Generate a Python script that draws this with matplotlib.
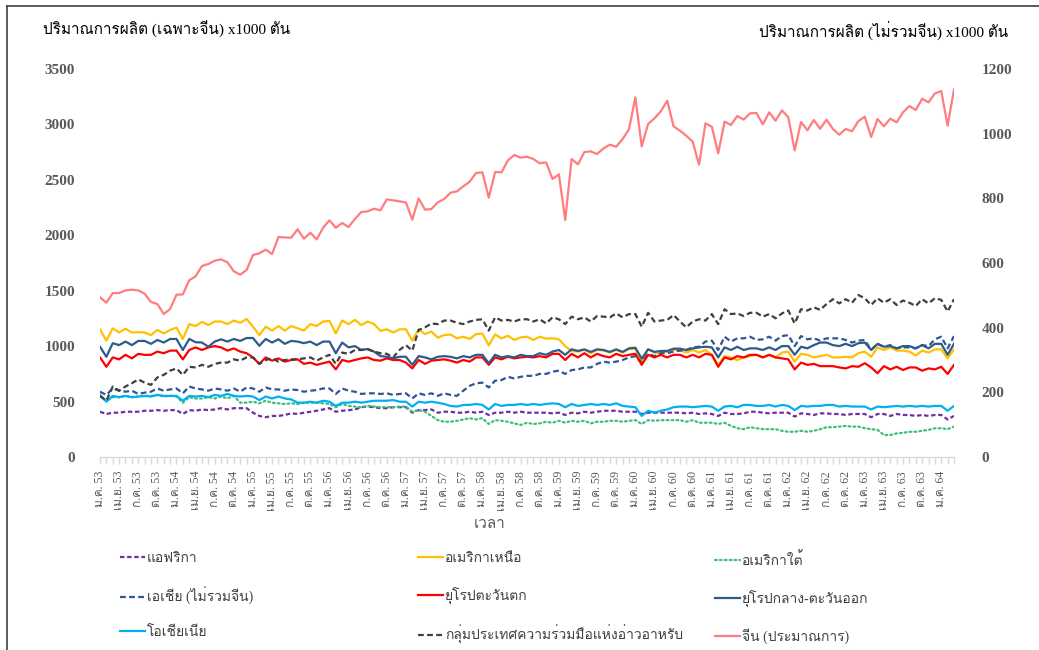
import matplotlib
matplotlib.use('Agg')
import matplotlib.pyplot as plt
from matplotlib import font_manager
from matplotlib.ft2font import FT2Font
from matplotlib.lines import Line2D


def thai_font():
    # first installed family that has Thai glyphs
    found = []
    for f in font_manager.fontManager.ttflist:
        try:
            if FT2Font(f.fname).get_char_index(0x0E01):
                found.append(f.name)
        except Exception:
            pass
    for name in ['Norasi', 'Kinnari', 'Sawasdee', 'Garuda', 'Loma',
                 'Noto Serif Thai', 'Noto Sans Thai', 'Noto Sans']:
        if name in found:
            return name
    return found[0] if found else 'DejaVu Sans'


TH = thai_font()
plt.rcParams['font.family'] = ['Liberation Serif', TH, 'DejaVu Sans']

# monthly production, ม.ค. 53 - มี.ค. 64
months = ['ม.ค.', 'เม.ย.', 'ก.ค.', 'ต.ค.']
first_year = 53

china = [1440, 1392, 1479, 1479, 1503, 1509, 1503, 1473, 1398, 1380,
         1290, 1335, 1464, 1467, 1594, 1630, 1723, 1741, 1771, 1783,
         1756, 1675, 1645, 1687, 1822, 1837, 1870, 1831, 1984, 1981,
         1978, 2054, 1969, 2023, 1963, 2068, 2135, 2068, 2111, 2075,
         2147, 2210, 2216, 2240, 2225, 2324, 2315, 2306, 2297, 2141,
         2333, 2231, 2237, 2297, 2327, 2384, 2396, 2441, 2483, 2562,
         2568, 2339, 2571, 2568, 2676, 2724, 2700, 2709,
         2688, 2649, 2658, 2508, 2550, 2138, 2688, 2640, 2751, 2757,
         2733, 2784, 2817, 2799, 2868, 2956, 3244, 2802, 3004, 3055,
         3118, 3214, 2983, 2943, 2898, 2844, 2637, 3010, 2979, 2739,
         3025, 2995, 3076, 3043, 3100, 3103, 3001, 3109, 3034, 3127,
         3064, 2766, 3022, 2947, 3040, 2961, 3043, 2959, 2907, 2959,
         2938, 3031, 3070, 2886, 3049, 2983, 3052, 3019, 3109, 3166,
         3130, 3232, 3199, 3280, 3301, 2988, 3316]

north_america = [395, 360, 398, 385, 397, 385, 386, 385, 377, 393,
                 382, 393, 400, 365, 411, 405, 418, 408, 419, 419,
                 411, 422, 415, 427, 403, 377, 403, 391, 405, 391,
                 405, 398, 391, 411, 405, 419, 421, 382, 422, 411,
                 424, 408, 419, 411, 390, 395,
                 385, 395, 395, 360, 395, 380, 388, 369, 377, 379,
                 367, 372, 365, 380, 382, 345, 379, 367, 375, 362,
                 370, 372, 362, 372, 366, 367, 364, 343, 328, 326,
                 331, 321, 331, 329, 323, 331, 323, 334, 334, 295,
                 333, 323, 321, 326, 331, 331,
                 323, 331, 323, 331, 316, 285, 312, 308, 300, 308,
                 312, 316, 308, 316, 308, 323, 326, 295, 319, 316,
                 308, 312, 316, 308, 308, 310, 308, 321, 326, 310,
                 339, 331, 339, 329, 329, 326, 314, 329, 323, 333,
                 333, 305, 333]

central_east_europe = [341, 310, 352, 346, 357, 346, 359, 359, 350, 362,
                       354, 365, 365, 331, 365, 355, 354, 341, 357, 364,
                       357, 365, 359, 368, 368, 344, 365, 354, 364, 350,
                       359, 357, 352, 357, 346, 357, 357, 321, 354, 339,
                       343, 331, 334, 326, 312, 310,
                       305, 310, 310, 285, 312, 308, 302, 310, 312, 310,
                       305, 312, 308, 316, 316, 290, 316, 308, 312, 308,
                       316, 312, 312, 321, 316, 326, 331, 316, 333, 328,
                       333, 325, 333, 331, 325, 333, 325, 336, 338, 304,
                       333, 325, 328, 328, 335, 335,
                       331, 336, 339, 341, 339, 308, 339, 331, 341, 331,
                       336, 336, 331, 339, 331, 343, 343, 316, 341, 336,
                       346, 354, 354, 346, 343, 350, 343, 352, 354, 331,
                       350, 341, 343, 336, 343, 343, 336, 346, 336, 350,
                       350, 316, 350]

west_europe = [308, 279, 308, 302, 316, 305, 319, 316, 316, 326,
               321, 329, 329, 302, 331, 339, 331, 339, 343, 339,
               329, 336, 326, 321, 308, 288, 308, 298, 305, 295,
               300, 302, 288, 292, 285, 290, 295, 271, 300, 295,
               300, 305, 308, 300, 298, 305,
               300, 300, 292, 274, 300, 288, 298, 300, 302, 298,
               292, 300, 295, 308, 308, 285, 308, 302, 310, 305,
               308, 310, 308, 312, 308, 319, 319, 300, 319, 308,
               321, 308, 319, 312, 308, 319, 312, 316, 319, 285,
               316, 308, 316, 308, 316, 316,
               308, 316, 308, 319, 316, 279, 308, 302, 312, 308,
               316, 316, 308, 316, 308, 305, 302, 271, 292, 285,
               288, 281, 281, 281, 277, 274, 281, 279, 290, 277,
               259, 281, 271, 279, 269, 277, 277, 267, 274, 271,
               279, 257, 285]

gcc = [189, 174, 218, 205, 218, 228, 240, 230, 223, 246,
       254, 267, 274, 254, 279, 277, 285, 279, 288, 292,
       292, 302, 298, 308, 308, 288, 300, 305, 295, 300,
       302, 302, 305, 308, 298, 308, 316, 288, 323, 319,
       331, 331, 333, 326, 321, 319,
       308, 331, 346, 329, 393, 401, 413, 411, 422, 422,
       415, 411, 419, 424, 426, 391, 432, 422, 424, 419,
       426, 426, 419, 426, 413, 432, 426, 411, 434, 426,
       432, 419, 436, 434, 432, 444, 432, 442, 442, 403,
       446, 419, 422, 424, 439, 419,
       401, 419, 426, 422, 442, 411, 457, 442, 444, 436,
       446, 446, 434, 442, 429, 444, 453, 413, 457, 453,
       463, 455, 473, 488, 475, 488, 477, 501, 491, 470,
       491, 477, 488, 470, 484, 477, 467, 488, 475, 491,
       486, 450, 488]

asia = [202, 192, 212, 205, 202, 205, 195, 199, 202, 212,
        205, 209, 212, 197, 218, 212, 209, 205, 212, 209,
        205, 212, 202, 215, 212, 202, 215, 209, 209, 205,
        209, 207, 202, 205, 207, 212, 212, 195, 212, 205,
        202, 195, 197, 197, 195, 197,
        192, 195, 197, 181, 197, 192, 197, 189, 197, 192,
        189, 205, 220, 228, 230, 215, 236, 238, 248, 243,
        248, 251, 251, 257, 257, 264, 267, 257, 269, 271,
        277, 277, 288, 295, 292, 295, 300, 308, 312, 292,
        319, 312, 321, 321, 326, 329,
        331, 339, 341, 357, 360, 331, 372, 357, 367, 367,
        372, 362, 364, 372, 360, 374, 377, 343, 374, 364,
        367, 360, 367, 367, 367, 362, 354, 360, 362, 331,
        350, 341, 346, 336, 339, 339, 336, 346, 343, 364,
        372, 336, 374]

oceania = [192, 171, 189, 185, 189, 185, 187, 189, 187, 192,
           189, 189, 189, 174, 189, 187, 189, 185, 192, 189,
           195, 189, 187, 189, 187, 176, 187, 181, 187, 181,
           178, 168, 168, 171, 168, 174, 171, 158, 168, 168,
           171, 168, 171, 174, 174, 174,
           176, 171, 171, 156, 171, 168, 171, 168, 164, 158,
           156, 161, 161, 164, 161, 147, 164, 158, 161, 161,
           164, 161, 164, 161, 164, 166, 164, 154, 164, 158,
           161, 164, 161, 164, 161, 166, 158, 156, 154, 127,
           143, 137, 143, 147, 154, 156,
           156, 154, 156, 158, 156, 143, 156, 158, 154, 161,
           161, 158, 158, 161, 156, 161, 158, 145, 158, 156,
           158, 158, 161, 161, 156, 158, 156, 156, 156, 147,
           156, 154, 156, 158, 156, 158, 156, 158, 156, 158,
           158, 143, 158]

africa = [140, 133, 137, 137, 140, 140, 140, 143, 143, 145,
          143, 145, 145, 133, 145, 143, 147, 145, 147, 151,
          147, 151, 151, 151, 137, 127, 123, 127, 127, 130,
          135, 133, 137, 140, 143, 147, 151, 140, 143, 145,
          147, 154, 156, 154, 151, 151,
          154, 154, 154, 137, 145, 145, 147, 137, 140, 140,
          137, 137, 140, 137, 140, 130, 137, 137, 140, 137,
          140, 137, 137, 137, 137, 135, 137, 130, 137, 135,
          140, 137, 140, 143, 143, 143, 140, 140, 140, 133,
          137, 137, 137, 137, 137, 137,
          135, 137, 133, 135, 133, 127, 137, 133, 133, 135,
          140, 140, 137, 135, 137, 137, 137, 125, 135, 133,
          130, 135, 135, 133, 133, 130, 133, 133, 133, 123,
          133, 133, 127, 133, 130, 130, 127, 130, 127, 130,
          130, 116, 127]

south_america = [187, 174, 185, 185, 189, 185, 187, 189, 189, 192,
                 187, 189, 187, 168, 185, 181, 181, 185, 181, 187,
                 181, 189, 168, 168, 171, 166, 174, 168, 166, 164,
                 166, 164, 168, 168, 168, 166, 164, 154, 164, 158,
                 156, 154, 158, 156, 154, 154,
                 154, 156, 156, 140, 145, 140, 127, 114, 109, 109,
                 112, 116, 120, 116, 120, 102, 114, 112, 109, 104,
                 99, 106, 102, 104, 109, 106, 112, 106, 112, 109,
                 112, 104, 109, 109, 112, 112, 109, 112, 114, 102,
                 114, 112, 114, 114, 114, 114,
                 109, 114, 106, 106, 106, 102, 106, 96, 89, 86,
                 92, 89, 86, 86, 86, 81, 78, 78, 81, 78,
                 81, 86, 92, 92, 94, 96, 94, 94, 89, 86,
                 84, 68, 68, 73, 75, 78, 78, 81, 84, 89,
                 89, 86, 94]

x = list(range(len(china)))
xlabels = []
for i in x:
    if i % 3 == 0:
        xlabels.append(months[(i // 3) % 4] + ' ' + str(first_year + i // 12))
    else:
        xlabels.append('')

W, H = 1039, 650
fig = plt.figure(figsize=(W / 100, H / 100), dpi=100)
ax = fig.add_axes([100 / W, 1 - 457 / H, 854 / W, 388 / H])
ax2 = ax.twinx()

lw = 1.6
l_china, = ax.plot(x, china, color='#FF7C80', lw=lw)

l_af, = ax2.plot(x, africa, color='#7030A0', lw=lw, dashes=(2, 1.2))
l_na, = ax2.plot(x, north_america, color='#FFC000', lw=lw)
l_sa, = ax2.plot(x, south_america, color='#3DBE7A', lw=lw, dashes=(0.8, 1.4),
                 dash_capstyle='round')
l_as, = ax2.plot(x, asia, color='#2F5597', lw=lw, dashes=(2.6, 1.5))
l_we, = ax2.plot(x, west_europe, color='#FF0000', lw=lw)
l_ce, = ax2.plot(x, central_east_europe, color='#2E5B8C', lw=lw)
l_oc, = ax2.plot(x, oceania, color='#00B0F0', lw=lw)
l_gcc, = ax2.plot(x, gcc, color='#404040', lw=lw, dashes=(2.6, 1.5))

ax.set_xlim(0, len(china) - 1)
ax.set_ylim(0, 3500)
ax.set_yticks(range(0, 3501, 500))
ax2.set_ylim(0, 1200)
ax2.set_yticks(range(0, 1201, 200))

ax.set_xticks(x)
ax.set_xticklabels(xlabels, rotation=90, fontsize=8.5, color='#595959')
ax.tick_params(axis='x', length=5, width=1, color='#D9D9D9', pad=5)
ax.tick_params(axis='y', length=0, pad=18, labelsize=11, labelcolor='#595959')
ax2.tick_params(axis='y', length=0, pad=20, labelsize=11, labelcolor='#595959')
for lbl in ax.get_yticklabels() + ax2.get_yticklabels():
    lbl.set_fontweight('bold')

for s in ['top', 'left', 'right']:
    ax.spines[s].set_visible(False)
for s in ax2.spines.values():
    s.set_visible(False)
ax.spines['bottom'].set_color('#D9D9D9')
ax.spines['bottom'].set_linewidth(1)

fig.text(43 / W, 1 - 30 / H, 'ปริมาณการผลิต (เฉพาะจีน) x1000 ตัน',
         ha='left', va='center', fontsize=11)
fig.text(1008 / W, 1 - 30 / H, 'ปริมาณการผลิต (ไม่รวมจีน) x1000 ตัน',
         ha='right', va='center', fontsize=11)
fig.text(490 / W, 1 - 525 / H, 'เวลา', ha='center', va='center',
         fontsize=11, color='#595959')

# legend in three columns
cols = [
    ([l_af, l_as, l_oc], ['แอฟริกา', 'เอเชีย (ไม่รวมจีน)', 'โอเชียเนีย'], 120),
    ([l_na, l_we, l_gcc], ['อเมริกาเหนือ', 'ยุโรปตะวันตก',
                           'กลุ่มประเทศความร่วมมือแห่งอ่าวอาหรับ'], 418),
    ([l_sa, l_ce, l_china], ['อเมริกาใต้', 'ยุโรปกลาง-ตะวันออก',
                             'จีน (ประมาณการ)'], 715),
]
for handles, labels, x0 in cols:
    fig.legend(handles, labels, loc='upper left',
               bbox_to_anchor=(x0 / W, 1 - 552 / H), frameon=False,
               fontsize=10, handlelength=1.8, handletextpad=0.15,
               labelspacing=1.55, borderpad=0, borderaxespad=0,
               labelcolor='#404040')

# frame lines of the original screenshot
fig.add_artist(Line2D([6.5 / W, 6.5 / W], [0, 1 - 6 / H], color='#404040', lw=1.2))
fig.add_artist(Line2D([6.5 / W, 1], [1 - 6 / H, 1 - 6 / H], color='#404040', lw=1.2))

fig.savefig('out.png', dpi=100)
